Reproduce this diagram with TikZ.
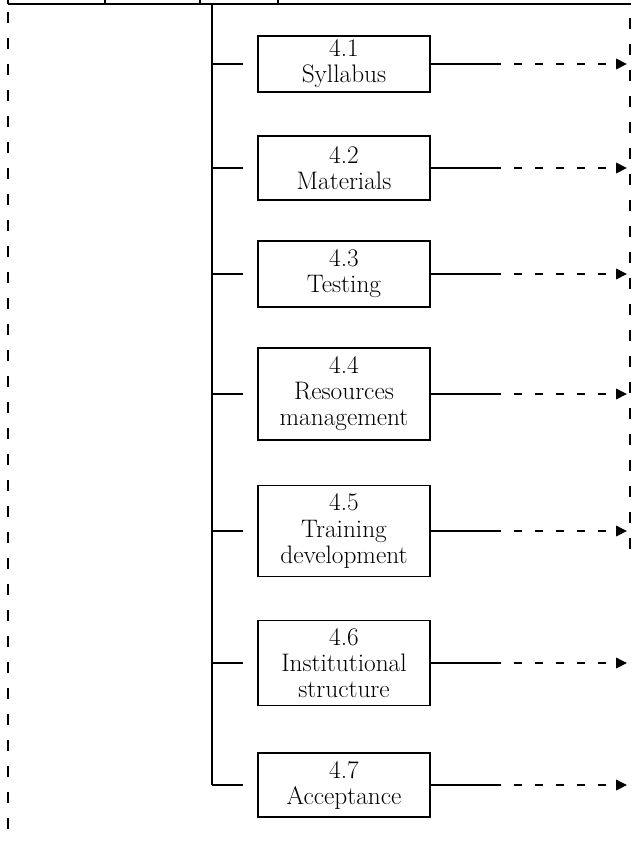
\documentclass[tikz,border=0pt]{standalone}
\usepackage{fontspec}
\usepackage{tikz}
\usetikzlibrary{arrows.meta}
\newcommand\area[5]{\node[area,minimum height=#3] (#1) at (344,#2) {#4\\#5};}
\newcommand\feed[1]{\draw (trunk|-#1.west) -- ++(31,0); \draw (#1.east) -- ++(62,0) coordinate (#1-d); \draw[gap,-{Triangle[length=0.27cm,width=0.26cm]}] (#1-d) -- (tips|-#1.east);}

\begin{document}
\begin{tikzpicture}[x=0.025cm,y=-0.025cm]
\tikzstyle{area}=[draw,line width=1.1pt,align=center,minimum width=172*0.025cm,inner sep=1pt,font=\fontsize{18}{18.5}\selectfont]
\tikzstyle{gap}=[line width=1.1pt,dash pattern=on 8*0.025cm off 13*0.025cm]
\tikzstyle{rule}=[line width=1.3pt,dash pattern=on 11*0.025cm off 15*0.025cm]
\tikzstyle{every path}=[line width=1.1pt]
\useasboundingbox (0,0) rectangle (631,841);
\coordinate (trunk) at (212,4);
\coordinate (tips) at (627,4);
% table edge at the top
\draw (8,4) -- (631,4);
\foreach \x in {8,105,200,278} \draw (\x,0) -- (\x,4);
\draw[rule] (8,12) -- (8,841);
\draw[rule] (630,18) -- (630,560);
% components
\area{syl}{64}{56*0.025cm}{4.1}{Syllabus}
\area{mat}{168}{64*0.025cm}{4.2}{Materials}
\area{tst}{274}{66*0.025cm}{4.3}{Testing}
\area{res}{394}{92*0.025cm}{4.4}{Resources\\management}
\area{trn}{531}{91*0.025cm}{4.5}{Training\\development}
\area{ins}{663}{85*0.025cm}{4.6}{Institutional\\structure}
\area{acc}{785}{64*0.025cm}{4.7}{Acceptance}
\draw (trunk) -- (trunk|-acc.west);
\feed{syl}
\feed{mat}
\feed{tst}
\feed{res}
\feed{trn}
\feed{ins}
\feed{acc}
\end{tikzpicture}
\end{document}
